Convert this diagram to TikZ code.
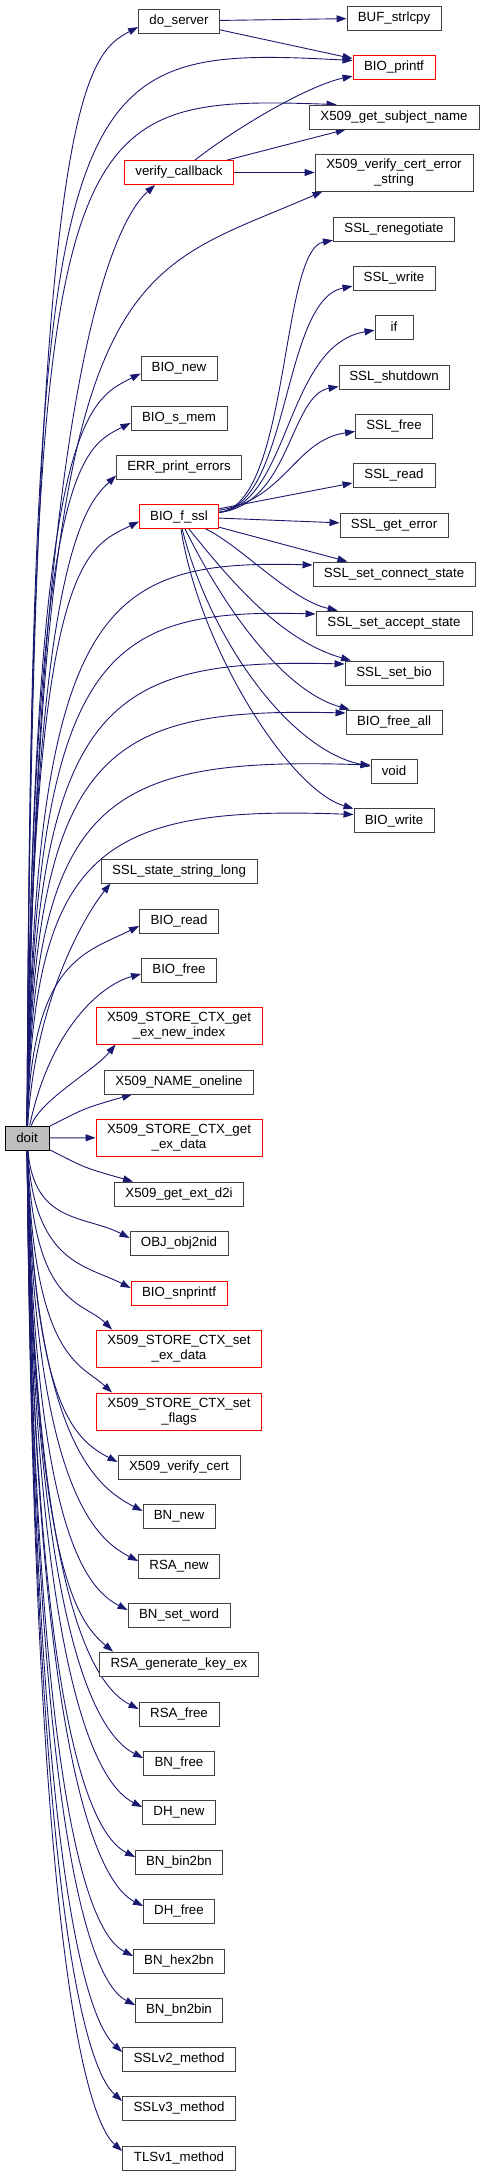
\documentclass[tikz,border=0pt]{standalone}
\usepackage{fontspec}
\setmainfont{Liberation Sans}
\usetikzlibrary{arrows.meta}
\definecolor{edgeblue}{HTML}{191970}
\definecolor{boxgray}{HTML}{404040}
\definecolor{rootfill}{HTML}{BFBFBF}
\pgfdeclarelayer{bg}
\pgfsetlayers{bg,main}
\tikzset{
 box/.style={draw=boxgray, fill=white, line width=0.9pt, minimum height=24pt, inner sep=0pt, align=center, font=\fontsize{13.3}{14.5}\selectfont},
 redbox/.style={box, draw=red},
 rootbox/.style={box, draw=black, fill=rootfill},
 tall/.style={minimum height=37pt},
 edge/.style={draw=edgeblue, line width=0.9pt, -{Triangle[length=10pt,width=7pt]}},
}
\begin{document}
\begin{tikzpicture}[x=1pt,y=-1pt]
\useasboundingbox (0,0) rectangle (484,2176);
% nodes
\node[rootbox, minimum width=44pt] (doit) at (27,1138) {doit};
\node[box, minimum width=81pt] (doserver) at (179,21) {do\_server};
\node[box, minimum width=94pt] (bufstrlcpy) at (394,18) {BUF\_strlcpy};
\node[redbox, minimum width=82pt] (bioprintf) at (394,67.5) {BIO\_printf};
\node[box, minimum width=170pt] (x509getsubj) at (394,117) {X509\_get\_subject\_name};
\node[redbox, minimum width=109pt] (verifycb) at (179,172.5) {verify\_callback};
\node[box, tall, minimum width=158pt] (x509vces) at (394,172.5) {X509\_verify\_cert\_error\\\_string};
\node[box, minimum width=121pt] (sslreneg) at (394,229) {SSL\_renegotiate};
\node[box, minimum width=82pt] (sslwrite) at (394,278) {SSL\_write};
\node[box, minimum width=38pt] (nif) at (394,327) {if};
\node[box, minimum width=110pt] (sslshutdown) at (394,377) {SSL\_shutdown};
\node[box, minimum width=76pt] (bionew) at (179,368.5) {BIO\_new};
\node[box, minimum width=96pt] (biosmem) at (179,418) {BIO\_s\_mem};
\node[box, minimum width=77pt] (sslfree) at (394,426) {SSL\_free};
\node[box, minimum width=125pt] (errprint) at (179,467.5) {ERR\_print\_errors};
\node[box, minimum width=82pt] (sslread) at (394,475) {SSL\_read};
\node[redbox, minimum width=79pt] (biofssl) at (179,516.5) {BIO\_f\_ssl};
\node[box, minimum width=108pt] (sslgeterror) at (394,525) {SSL\_get\_error};
\node[box, minimum width=162pt] (sslconnect) at (394,574) {SSL\_set\_connect\_state};
\node[box, minimum width=156pt] (sslaccept) at (394,623) {SSL\_set\_accept\_state};
\node[box, minimum width=98pt] (sslsetbio) at (394,673) {SSL\_set\_bio};
\node[box, minimum width=96pt] (biofreeall) at (394,722) {BIO\_free\_all};
\node[box, minimum width=46pt] (nvoid) at (394,771) {void};
\node[box, minimum width=80pt] (biowrite) at (394,820.5) {BIO\_write};
\node[box, minimum width=156pt] (sslstate) at (179,871) {SSL\_state\_string\_long};
\node[box, minimum width=79pt] (bioread) at (179,921) {BIO\_read};
\node[box, minimum width=75pt] (biofree) at (179,970) {BIO\_free};
\node[redbox, tall, minimum width=166pt] (getexnewidx) at (179,1025.5) {X509\_STORE\_CTX\_get\\\_ex\_new\_index};
\node[box, minimum width=149pt] (nameoneline) at (179,1082) {X509\_NAME\_oneline};
\node[redbox, tall, minimum width=166pt] (getexdata) at (179,1137.5) {X509\_STORE\_CTX\_get\\\_ex\_data};
\node[box, minimum width=129pt] (getextd2i) at (179,1194) {X509\_get\_ext\_d2i};
\node[box, minimum width=98pt] (objobj2nid) at (179,1243) {OBJ\_obj2nid};
\node[redbox, minimum width=96pt] (biosnprintf) at (179,1293) {BIO\_snprintf};
\node[redbox, tall, minimum width=165pt] (setexdata) at (179,1348.5) {X509\_STORE\_CTX\_set\\\_ex\_data};
\node[redbox, tall, minimum width=165pt] (setflags) at (179,1411.5) {X509\_STORE\_CTX\_set\\\_flags};
\node[box, minimum width=122pt] (verifycert) at (179,1467) {X509\_verify\_cert};
\node[box, minimum width=72pt] (bnnew) at (179,1516) {BN\_new};
\node[box, minimum width=81pt] (rsanew) at (179,1566) {RSA\_new};
\node[box, minimum width=102pt] (bnsetword) at (179,1615) {BN\_set\_word};
\node[box, minimum width=159pt] (rsagen) at (179,1664) {RSA\_generate\_key\_ex};
\node[box, minimum width=80pt] (rsafree) at (179,1714) {RSA\_free};
\node[box, minimum width=71pt] (bnfree) at (179,1763) {BN\_free};
\node[box, minimum width=73pt] (dhnew) at (179,1812) {DH\_new};
\node[box, minimum width=87pt] (bnbin2bn) at (179,1862) {BN\_bin2bn};
\node[box, minimum width=71pt] (dhfree) at (179,1911) {DH\_free};
\node[box, minimum width=91pt] (bnhex2bn) at (179,1961) {BN\_hex2bn};
\node[box, minimum width=87pt] (bnbn2bin) at (179,2010) {BN\_bn2bin};
\node[box, minimum width=113pt] (sslv2) at (179,2059) {SSLv2\_method};
\node[box, minimum width=113pt] (sslv3) at (179,2108) {SSLv3\_method};
\node[box, minimum width=113pt] (tlsv1) at (179,2158) {TLSv1\_method};
% edges
\begin{pgfonlayer}{bg}
% doit -> middle column, upward
\draw[edge] (doit) .. controls (32,100) and (85,55) .. ([yshift=-6pt]doserver.west);
\draw[edge] (doit) .. controls (35,400) and (110,225) .. ([xshift=31pt]verifycb.south west);
\draw[edge] (doit) .. controls (32,421) and (86,401) .. ([yshift=-5pt]bionew.west);
\draw[edge] (doit) .. controls (32,468) and (81,448) .. ([yshift=-5pt]biosmem.west);
\draw[edge] (doit) .. controls (32,560) and (85,505) .. ([yshift=-8pt]errprint.west);
\draw[edge] (doit) .. controls (32,559) and (85,548) .. ([yshift=-5pt]biofssl.west);
\draw[edge] (doit) .. controls (35,1000) and (85,915) .. ([xshift=10pt]sslstate.south west);
\draw[edge] (doit) .. controls (32,960) and (85,953) .. ([yshift=-5pt]bioread.west);
\draw[edge] (doit) .. controls (50,1030) and (100,985) .. ([yshift=-4pt]biofree.west);
\draw[edge] (doit) .. controls (40,1100) and (95,1070) .. ([xshift=20pt]getexnewidx.south west);
\draw[edge] (doit) .. controls (85,1108) .. ([xshift=28pt]nameoneline.south west);
\draw[edge] (doit) -- (getexdata);
\draw[edge] (doit) .. controls (85,1168) .. ([xshift=19pt]getextd2i.north west);
% doit -> right column
\draw[edge] (doit) .. controls (32,60) and (60,45) .. ([yshift=7pt]bioprintf.west);
\draw[edge] (doit) .. controls (32,110) and (60,95) .. ([xshift=28pt]x509getsubj.north west);
\draw[edge] (doit) .. controls (40,250) and (120,280) .. ([xshift=8pt]x509vces.south west);
\draw[edge] (doit) .. controls (34,604) and (100,559) .. ([yshift=9pt]sslconnect.west);
\draw[edge] (doit) .. controls (34,653) and (100,608) .. ([yshift=9pt]sslaccept.west);
\draw[edge] (doit) .. controls (34,703) and (100,658) .. ([yshift=9pt]sslsetbio.west);
\draw[edge] (doit) .. controls (34,752) and (100,707) .. ([yshift=9pt]biofreeall.west);
\draw[edge] (doit) .. controls (34,801) and (100,756) .. ([yshift=6pt]nvoid.west);
\draw[edge] (doit) .. controls (34,850) and (100,805) .. ([yshift=6pt]biowrite.west);
% doit -> downward
\draw[edge] (doit) .. controls (34,1224) and (85,1215) .. ([yshift=5pt]objobj2nid.west);
\draw[edge] (doit) .. controls (34,1264) and (86,1265) .. ([yshift=5pt]biosnprintf.west);
\draw[edge] (doit) .. controls (33,1308) and (82,1300) .. ([xshift=16pt]setexdata.north west);
\draw[edge] (doit) .. controls (33,1360) and (80,1363) .. ([xshift=16pt]setflags.north west);
\draw[edge] (doit) .. controls (34,1404) and (73,1439) .. ([yshift=5pt]verifycert.west);
\draw[edge] (doit) .. controls (34,1443) and (98,1488) .. ([yshift=5pt]bnnew.west);
\draw[edge] (doit) .. controls (34,1483) and (93,1538) .. ([yshift=5pt]rsanew.west);
\draw[edge] (doit) .. controls (34,1522) and (83,1587) .. ([yshift=5pt]bnsetword.west);
\draw[edge] (doit) .. controls (34,1561) and (75,1620) .. ([xshift=14pt]rsagen.north west);
\draw[edge] (doit) .. controls (34,1601) and (94,1686) .. ([yshift=5pt]rsafree.west);
\draw[edge] (doit) .. controls (34,1640) and (98,1735) .. ([yshift=5pt]bnfree.west);
\draw[edge] (doit) .. controls (34,1680) and (97,1784) .. ([yshift=5pt]dhnew.west);
\draw[edge] (doit) .. controls (34,1720) and (90,1834) .. ([yshift=5pt]bnbin2bn.west);
\draw[edge] (doit) .. controls (34,1759) and (98,1883) .. ([yshift=5pt]dhfree.west);
\draw[edge] (doit) .. controls (34,1799) and (88,1933) .. ([yshift=5pt]bnhex2bn.west);
\draw[edge] (doit) .. controls (34,1838) and (90,1982) .. ([yshift=5pt]bnbn2bin.west);
\draw[edge] (doit) .. controls (34,1877) and (87,2020) .. ([yshift=7pt]sslv2.west);
\draw[edge] (doit) .. controls (34,1917) and (87,2070) .. ([yshift=7pt]sslv3.west);
\draw[edge] (doit) .. controls (34,1956) and (87,2120) .. ([yshift=7pt]tlsv1.west);
% do_server
\draw[edge] (doserver) -- (bufstrlcpy);
\draw[edge] (doserver) -- (bioprintf);
% verify_callback
\draw[edge] (verifycb) .. controls (240,125) and (310,85) .. (bioprintf);
\draw[edge] (verifycb) -- (x509getsubj);
\draw[edge] (verifycb) -- (x509vces);
% BIO_f_ssl
\draw[edge] (biofssl) .. controls (290,505) and (280,250) .. (sslreneg);
\draw[edge] (biofssl) .. controls (290,505) and (282,300) .. (sslwrite);
\draw[edge] (biofssl) .. controls (290,505) and (285,345) .. (nif);
\draw[edge] (biofssl) .. controls (290,505) and (290,395) .. (sslshutdown);
\draw[edge] (biofssl) .. controls (285,500) and (295,440) .. (sslfree);
\draw[edge] (biofssl) -- (sslread);
\draw[edge] (biofssl) -- (sslgeterror);
\draw[edge] (biofssl) -- (sslconnect);
\draw[edge] (biofssl) .. controls (240,545) and (290,600) .. (sslaccept);
\draw[edge] (biofssl) .. controls (230,580) and (280,640) .. (sslsetbio);
\draw[edge] (biofssl) .. controls (220,600) and (280,690) .. (biofreeall);
\draw[edge] (biofssl) .. controls (210,640) and (290,750) .. (nvoid);
\draw[edge] (biofssl) .. controls (200,650) and (290,790) .. (biowrite);
\end{pgfonlayer}
\end{tikzpicture}
\end{document}
